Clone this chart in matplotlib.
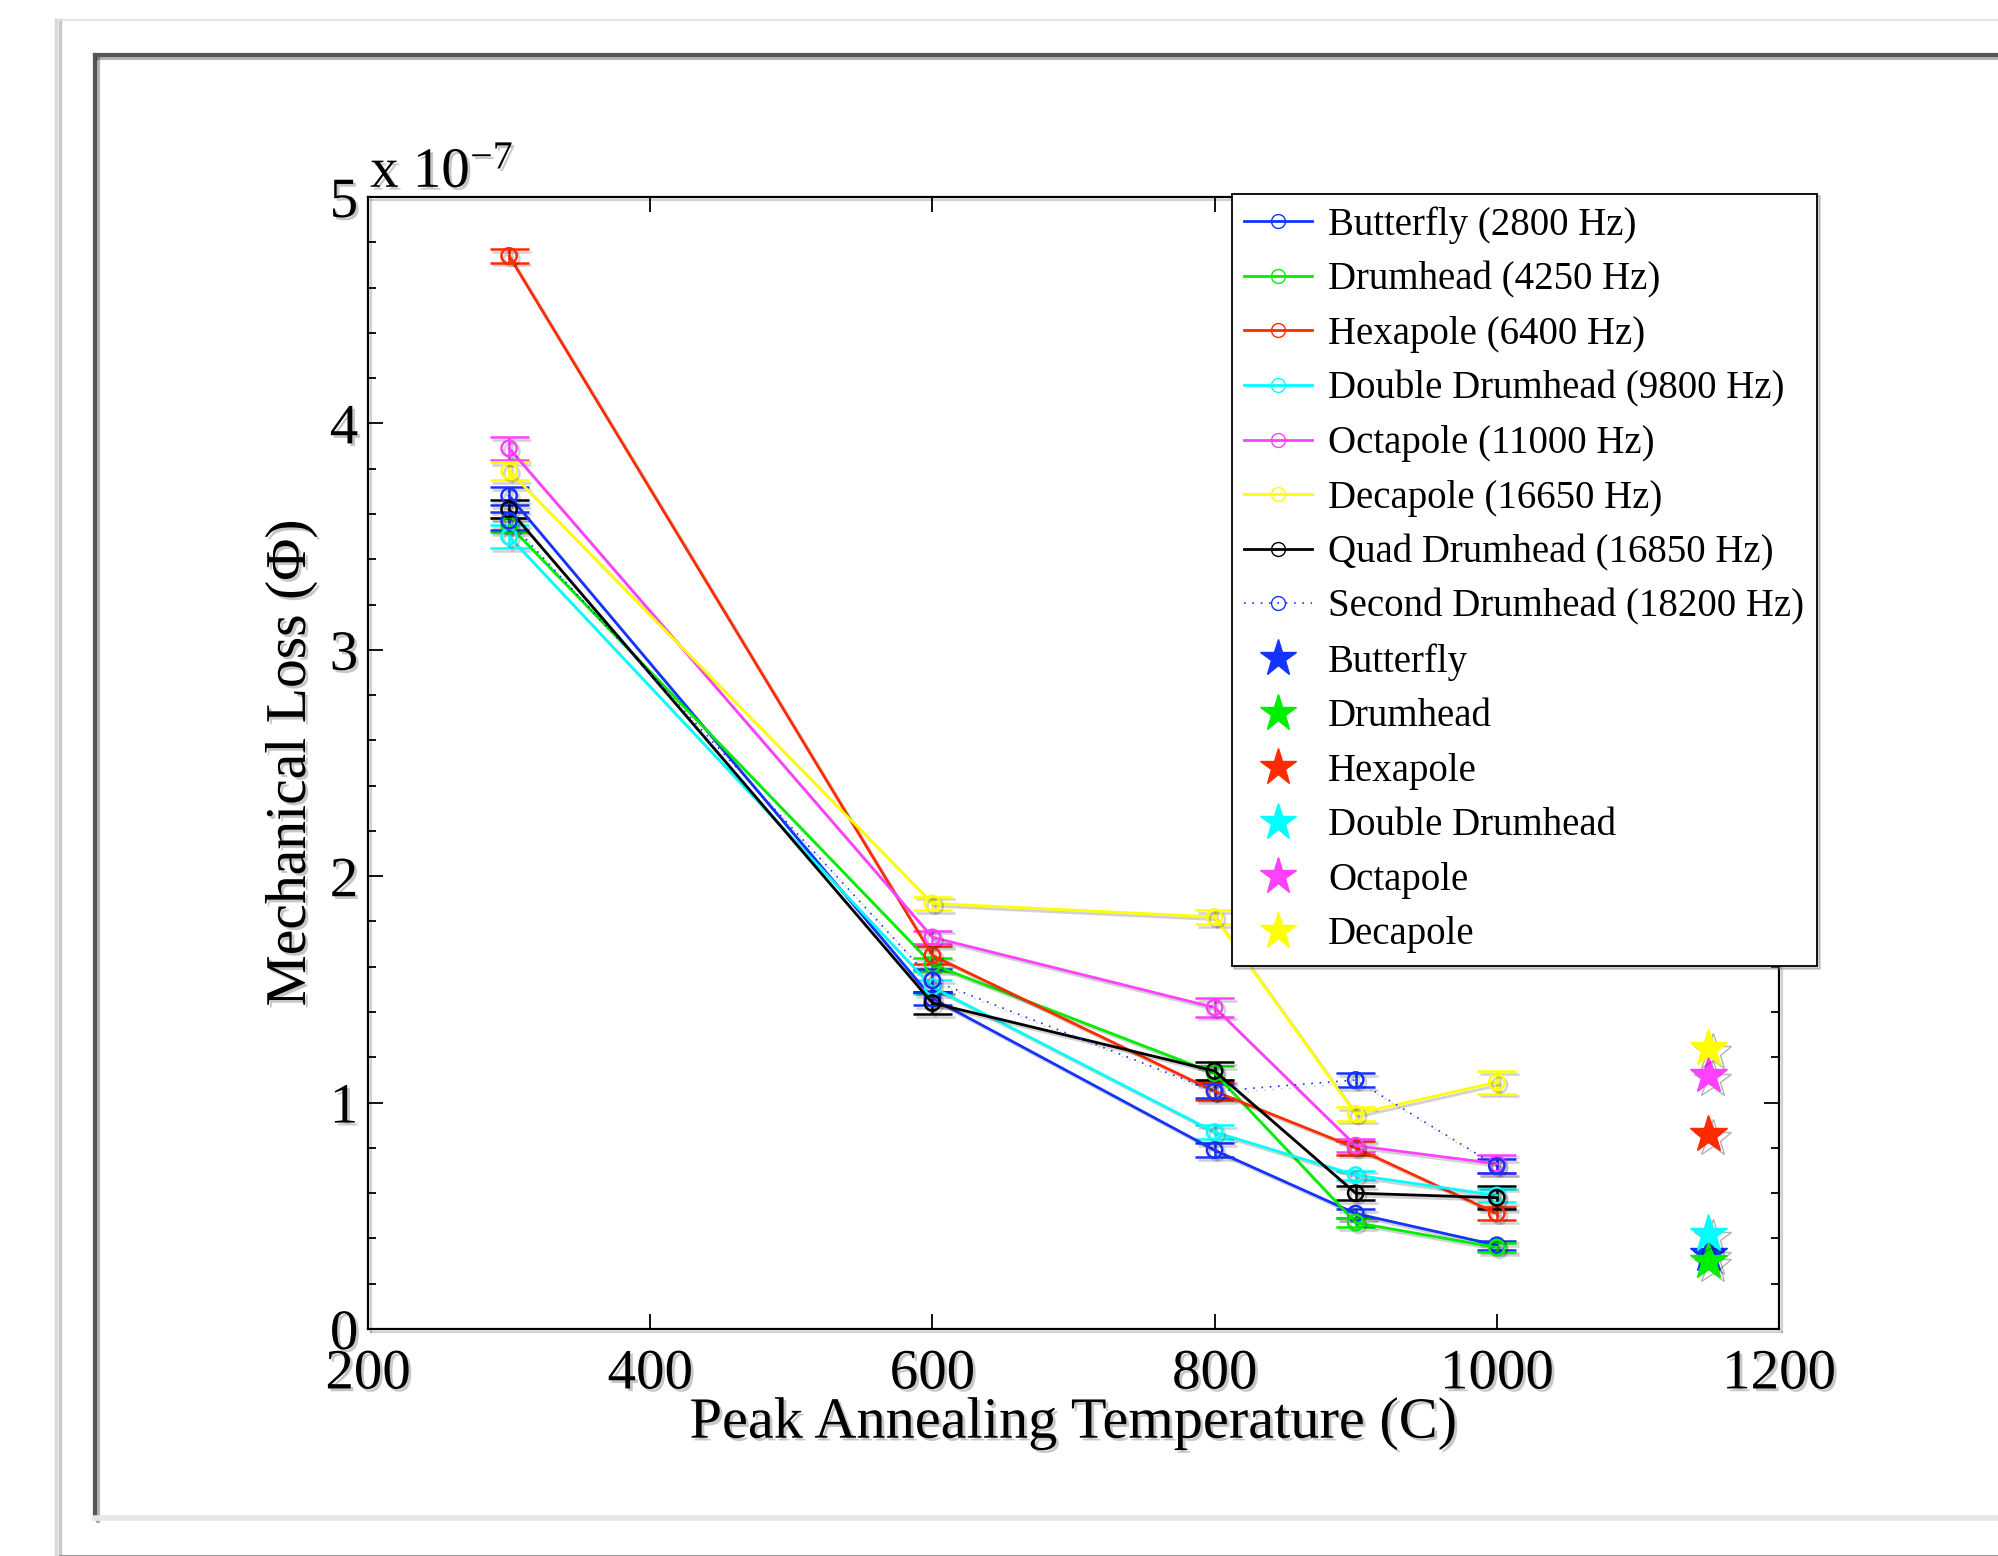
"""Mechanical loss of the coated disc modes versus peak annealing temperature."""

import matplotlib

matplotlib.use("Agg")
import matplotlib.patheffects as pe
import matplotlib.pyplot as plt
from matplotlib.lines import Line2D

plt.rcParams["font.family"] = ["Liberation Serif", "DejaVu Serif"]
plt.rcParams["mathtext.fontset"] = "custom"
plt.rcParams["mathtext.rm"] = "Liberation Serif"
plt.rcParams["mathtext.it"] = "Liberation Serif:italic"

# annealing temperatures (C) and measured loss in units of 1e-7
temps = [300, 600, 800, 900, 1000]

butterfly = [3.68, 1.46, 0.79, 0.51, 0.37]
drumhead = [3.55, 1.61, 1.13, 0.47, 0.36]
hexapole = [4.74, 1.65, 1.05, 0.80, 0.51]
double_drumhead = [3.50, 1.51, 0.87, 0.68, 0.59]
octapole = [3.89, 1.73, 1.42, 0.81, 0.73]
decapole = [3.79, 1.88, 1.82, 0.95, 1.09]
quad_drumhead = [3.62, 1.44, 1.14, 0.60, 0.58]
second_drumhead = [3.57, 1.54, 1.05, 1.10, 0.72]

butterfly_err = [0.04, 0.03, 0.03, 0.02, 0.02]
drumhead_err = [0.03, 0.03, 0.03, 0.02, 0.02]
hexapole_err = [0.03, 0.04, 0.04, 0.03, 0.03]
double_drumhead_err = [0.05, 0.03, 0.03, 0.02, 0.03]
octapole_err = [0.05, 0.03, 0.04, 0.03, 0.04]
decapole_err = [0.04, 0.03, 0.03, 0.03, 0.05]
quad_drumhead_err = [0.04, 0.05, 0.04, 0.03, 0.05]
second_drumhead_err = [0.04, 0.05, 0.03, 0.03, 0.03]

series_labels = [
    "Butterfly (2800 Hz)",
    "Drumhead (4250 Hz)",
    "Hexapole (6400 Hz)",
    "Double Drumhead (9800 Hz)",
    "Octapole (11000 Hz)",
    "Decapole (16650 Hz)",
    "Quad Drumhead (16850 Hz)",
    "Second Drumhead (18200 Hz)",
]

# uncoated reference values, plotted off to the right
star_temp = 1150
star_labels = ["Butterfly", "Drumhead", "Hexapole", "Double Drumhead", "Octapole", "Decapole"]
star_values = [0.33, 0.30, 0.86, 0.42, 1.12, 1.24]

BLUE = "#1433ff"
GREEN = "#00ee00"
RED = "#ff2a00"
CYAN = "#00ffff"
MAGENTA = "#ff40ff"
YELLOW = "#ffff00"
BLACK = "#000000"

series_colors = [BLUE, GREEN, RED, CYAN, MAGENTA, YELLOW, BLACK, BLUE]
series_styles = ["-"] * 7 + [(0, (1, 4))]
star_colors = [BLUE, GREEN, RED, CYAN, MAGENTA, YELLOW]

line_shadow = [pe.SimpleLineShadow(offset=(2, -2), shadow_color="k", alpha=0.18), pe.Normal()]
text_shadow = [pe.withSimplePatchShadow(offset=(2, -2), shadow_rgbFace="k", alpha=0.22)]

fig = plt.figure(figsize=(19.98, 15.56), dpi=100)
W, H = 1998.0, 1556.0

# page frames behind the axes
fig.add_artist(Line2D([60 / W, 60 / W], [0, 1 - 20 / H], color="#c8c8c8", lw=2.5,
                      path_effects=[pe.SimpleLineShadow(offset=(-3, 0), alpha=0.15), pe.Normal()]))
fig.add_artist(Line2D([60 / W, 1], [1 - 20 / H, 1 - 20 / H], color="#e2e2e2", lw=1.2))
fig.add_artist(Line2D([60 / W, 1], [0.5 / H, 0.5 / H], color="#9a9a9a", lw=1.5))
fig.add_artist(Line2D([95 / W, 95 / W], [1 - 1518 / H, 1 - 55 / H], color="#555555", lw=3,
                      path_effects=[pe.SimpleLineShadow(offset=(2, -2), alpha=0.3), pe.Normal()]))
fig.add_artist(Line2D([95 / W, 1], [1 - 55 / H, 1 - 55 / H], color="#555555", lw=3,
                      path_effects=[pe.SimpleLineShadow(offset=(2, -2), alpha=0.3), pe.Normal()]))
fig.add_artist(Line2D([95 / W, 1], [1 - 1518 / H, 1 - 1518 / H], color="#e6e6e6", lw=4))

ax = fig.add_axes([368 / W, 1 - 1329 / H, 1411 / W, 1132 / H])

all_values = [butterfly, drumhead, hexapole, double_drumhead, octapole, decapole,
              quad_drumhead, second_drumhead]
all_errors = [butterfly_err, drumhead_err, hexapole_err, double_drumhead_err, octapole_err,
              decapole_err, quad_drumhead_err, second_drumhead_err]

handles = []
for vals, errs, color, style, label in zip(all_values, all_errors, series_colors,
                                           series_styles, series_labels):
    lw = 1.2 if style != "-" else 2.0
    line, caps, bars = ax.errorbar(
        temps, vals, yerr=errs, color=color, ls=style, lw=lw, marker="o", ms=11,
        mfc="none", mec=color, mew=1.8, capsize=14, capthick=1.8, elinewidth=1.8,
    )
    line.set_path_effects(line_shadow)
    for c in caps:
        c.set_path_effects(line_shadow)
    for b in bars:
        b.set_path_effects(line_shadow)
    handles.append(Line2D([], [], color=color, ls=style, lw=lw, marker="o", ms=10,
                          mfc="none", mec=color, mew=1.0, label=label))

for val, color, label in zip(star_values, star_colors, star_labels):
    ax.plot([star_temp], [val], ls="none", marker="*", ms=28, color=color, mec=color,
            path_effects=[pe.SimpleLineShadow(offset=(3, -3), alpha=0.3), pe.Normal()])
    handles.append(Line2D([], [], ls="none", marker="*", ms=28, color=color, mec=color,
                          label=label))

ax.set_xlim(200, 1200)
ax.set_ylim(0, 5)
ax.set_xticks([200, 400, 600, 800, 1000, 1200])
ax.set_yticks([0, 1, 2, 3, 4, 5])
ax.set_yticks([v / 5 for v in range(26)], minor=True)
ax.tick_params(which="both", direction="in", top=True, right=True, width=1.3)
ax.tick_params(which="major", length=11, labelsize=41)
ax.tick_params(which="minor", length=5.5)
ax.tick_params(axis="x", pad=14)
ax.tick_params(axis="y", pad=7)
for spine in ax.spines.values():
    spine.set_linewidth(1.6)
    spine.set_path_effects(line_shadow)
for lbl in ax.get_xticklabels() + ax.get_yticklabels():
    lbl.set_path_effects(text_shadow)

ax.set_xlabel("Peak Annealing Temperature (C)", fontsize=42, labelpad=-2,
              path_effects=text_shadow)
ax.set_ylabel("Mechanical Loss (\u03a6)", fontsize=41.5, labelpad=9, path_effects=text_shadow)
ax.text(0.0015, 1.009, r"x 10$^{\mathregular{-7}}$", transform=ax.transAxes, ha="left",
        va="baseline", fontsize=41, path_effects=text_shadow)

leg = ax.legend(
    handles=handles, loc="upper left", bbox_to_anchor=(0.612, 1.003), borderaxespad=0,
    fontsize=28, frameon=True, fancybox=False, framealpha=1, edgecolor="black",
    handlelength=1.75, handletextpad=0.4, labelspacing=0.45, borderpad=0.33,
    shadow={"color": "0.5", "alpha": 0.35},
)
leg.get_frame().set_linewidth(1.3)

fig.savefig("out.png", dpi=100)
